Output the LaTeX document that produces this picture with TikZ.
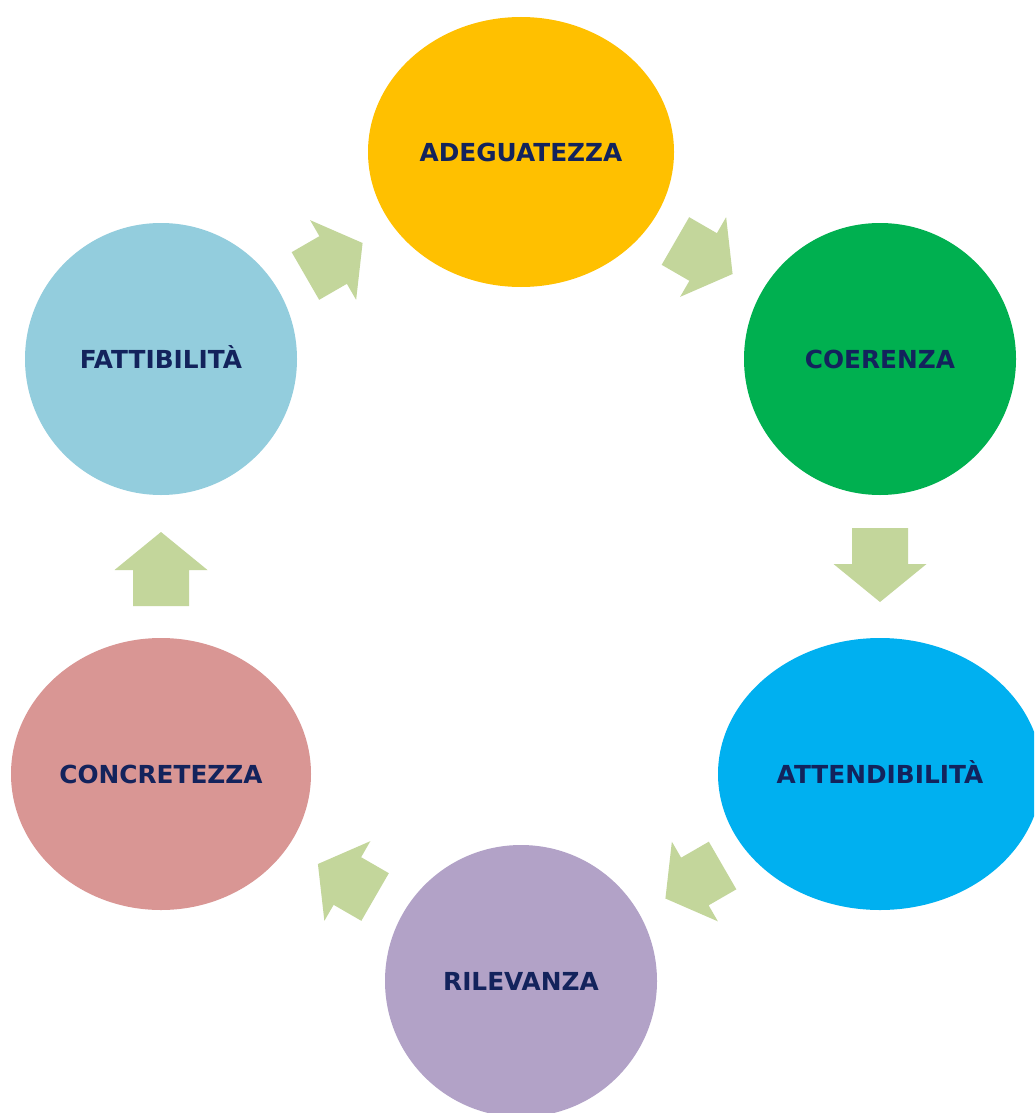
\documentclass[tikz,border=0pt]{standalone}
\usepackage{fontspec}
\setmainfont{DejaVu Sans}
\usetikzlibrary{shapes.geometric}
\definecolor{cYellow}{HTML}{FFC000}
\definecolor{cGreen}{HTML}{00B050}
\definecolor{cCyan}{HTML}{00B0F0}
\definecolor{cLilac}{HTML}{B2A2C7}
\definecolor{cRose}{HTML}{D99694}
\definecolor{cSky}{HTML}{93CDDD}
\definecolor{cArrow}{HTML}{C3D69B}
\definecolor{cText}{HTML}{13235C}
\tikzset{
  blob/.style={ellipse, draw=none, inner sep=0pt, text height=18pt, text depth=0pt,
    font=\fontsize{24.8}{28}\selectfont\bfseries, text=cText},
  blockarrow/.style={fill=cArrow, draw=none}
}
\newcommand{\vArrow}[2]{% center, angle
  \fill[blockarrow, shift={#1}, rotate=#2]
    (-37,-28) -- (-1,-28) -- (-1,-46.5) -- (37,0) -- (-1,46.5) -- (-1,28) -- (-37,28) -- cycle;}
\newcommand{\dArrow}[2]{%
  \fill[blockarrow, shift={#1}, rotate=#2]
    (-33,-27.5) -- (-1,-27.5) -- (-1,-46) -- (33,0) -- (-1,46) -- (-1,27.5) -- (-33,27.5) -- cycle;}
\begin{document}
\begin{tikzpicture}[x=1pt,y=-1pt]
  \useasboundingbox (0,0) rectangle (1034,1113);
  \clip (0,0) rectangle (1034,1113);
  \fill[white] (0,0) rectangle (1034,1113);
  \node[blob, fill=cYellow, minimum width=306pt, minimum height=270pt] (adeg) at (521,152) {ADEGUATEZZA};
  \node[blob, fill=cGreen, minimum width=272pt, minimum height=272pt] (coer) at (880,359) {COERENZA};
  \node[blob, fill=cCyan, minimum width=324pt, minimum height=272pt] (att) at (880,774) {ATTENDIBILITÀ};
  \node[blob, fill=cLilac, minimum width=272pt, minimum height=272pt] (ril) at (521,981) {RILEVANZA};
  \node[blob, fill=cRose, minimum width=300pt, minimum height=272pt] (conc) at (161,774) {CONCRETEZZA};
  \node[blob, fill=cSky, minimum width=272pt, minimum height=272pt] (fatt) at (161,359) {FATTIBILITÀ};
  \dArrow{(334,259.5)}{30}
  \dArrow{(704,257.5)}{-30}
  \vArrow{(880,565)}{-90}
  \dArrow{(694,882)}{-150}
  \dArrow{(346.5,880.5)}{150}
  \vArrow{(161,569)}{90}
\end{tikzpicture}
\end{document}
